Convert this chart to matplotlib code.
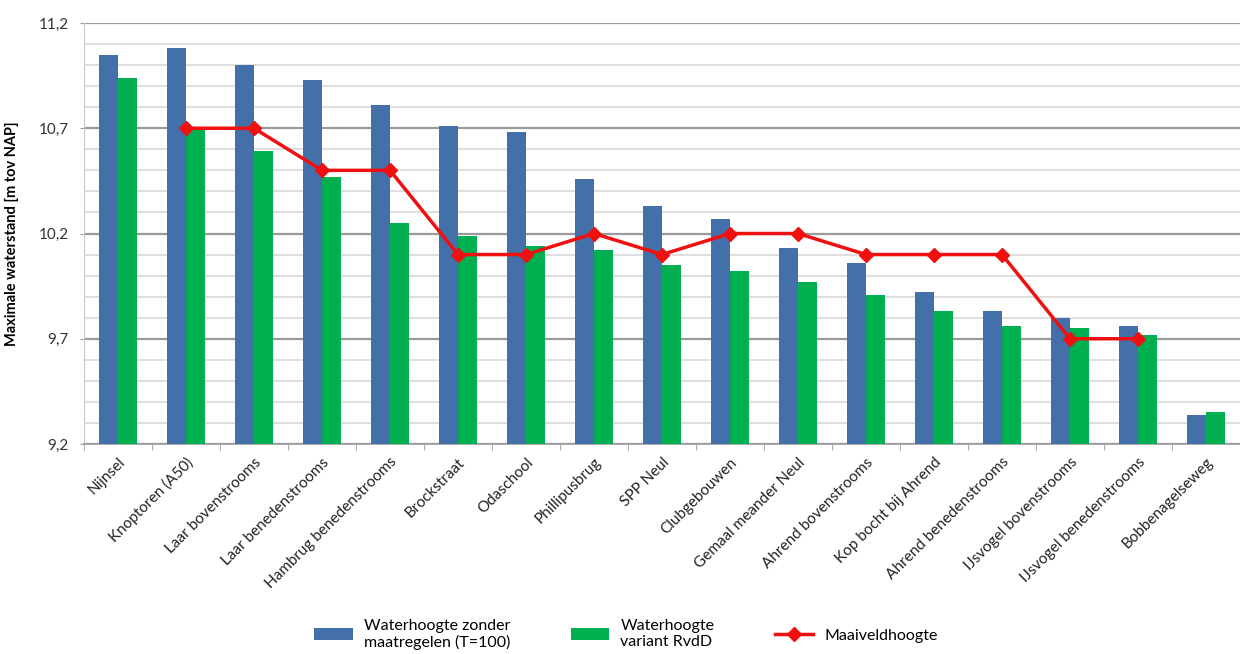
import matplotlib
matplotlib.use('agg')
import matplotlib.pyplot as plt
import numpy as np
from matplotlib.ticker import FixedLocator, FuncFormatter

plt.rcParams['font.family'] = ['Lato', 'DejaVu Sans']

locaties = ['Nijnsel', 'Knoptoren (A50)', 'Laar bovenstrooms', 'Laar benedenstrooms',
            'Hambrug benedenstrooms', 'Brockstraat', 'Odaschool', 'Phillipusbrug',
            'SPP Neul', 'Clubgebouwen', 'Gemaal meander Neul', 'Ahrend bovenstrooms',
            'Kop bocht bij Ahrend', 'Ahrend benedenstrooms', 'IJsvogel bovenstrooms',
            'IJsvogel benedenstrooms', 'Bobbenagelseweg']
zonder = [11.05, 11.08, 11.00, 10.93, 10.81, 10.71, 10.68, 10.46, 10.33, 10.27,
          10.13, 10.06, 9.92, 9.83, 9.80, 9.76, 9.34]
rvdd = [10.94, 10.69, 10.59, 10.47, 10.25, 10.19, 10.14, 10.12, 10.05, 10.02,
        9.97, 9.91, 9.83, 9.76, 9.75, 9.72, 9.35]
maaiveld = [np.nan, 10.7, 10.7, 10.5, 10.5, 10.1, 10.1, 10.2, 10.1, 10.2,
            10.2, 10.1, 10.1, 10.1, 9.7, 9.7, np.nan]

fig = plt.figure(figsize=(12.4, 6.54), dpi=100)
ax = fig.add_axes([84/1240, 1-444/654, 1-84/1240, (444-23)/654])

x = np.arange(len(locaties))
w = 0.275
b1 = ax.bar(x - w/2, zonder, w, color='#4470AA', label='Waterhoogte zonder\nmaatregelen (T=100)', zorder=3)
b2 = ax.bar(x + w/2, rvdd, w, color='#00B050', label='Waterhoogte\nvariant RvdD', zorder=3)
l1, = ax.plot(x, maaiveld, color='#F01010', lw=2.5, marker='D', ms=7, label='Maaiveldhoogte', zorder=4)

ax.set_ylim(9.2, 11.2)
ax.set_xlim(-0.5, 16.22)
ax.yaxis.set_major_locator(FixedLocator(np.linspace(9.2, 11.2, 5)))
ax.yaxis.set_minor_locator(FixedLocator(np.linspace(9.2, 11.2, 21)))
ax.yaxis.set_major_formatter(FuncFormatter(lambda v, p: ('%.1f' % v).replace('.', ',')))
ax.grid(which='major', axis='y', color='#9a9a9a', lw=1.6, zorder=0)
ax.grid(which='minor', axis='y', color='#d9d9d9', lw=1.2, zorder=0)
ax.tick_params(axis='y', which='major', length=3, color='#9a9a9a', labelsize=11, pad=8, labelcolor='#333333')
ax.tick_params(axis='y', which='minor', length=0)

ax.set_xticks(x)
ax.set_xticklabels(locaties, rotation=45, ha='right', rotation_mode='anchor', fontsize=11, color='#222222')
ax.tick_params(axis='x', which='major', length=0, pad=8)
ax.set_xticks(np.arange(-0.5, 16.6, 1), minor=True)
ax.tick_params(axis='x', which='minor', length=4, color='#9a9a9a')

for s in ['top', 'right']:
    ax.spines[s].set_visible(False)
ax.spines['left'].set_color('#c8c8c8')
ax.spines['bottom'].set_color('#9a9a9a')
ax.spines['bottom'].set_linewidth(1.2)

ax.set_ylabel('Maximale waterstand [m tov NAP]', fontsize=10.5, fontweight='bold', labelpad=10)
ax.yaxis.set_label_coords(-0.056, 0.5)

fig.legend(handles=[b1, b2, l1], loc='center', bbox_to_anchor=(0.505, 0.03), ncol=3, frameon=False,
           fontsize=11.5, handlelength=2.4, handleheight=0.8, handletextpad=0.7, columnspacing=3.8)

plt.savefig('out.png', dpi=100)
